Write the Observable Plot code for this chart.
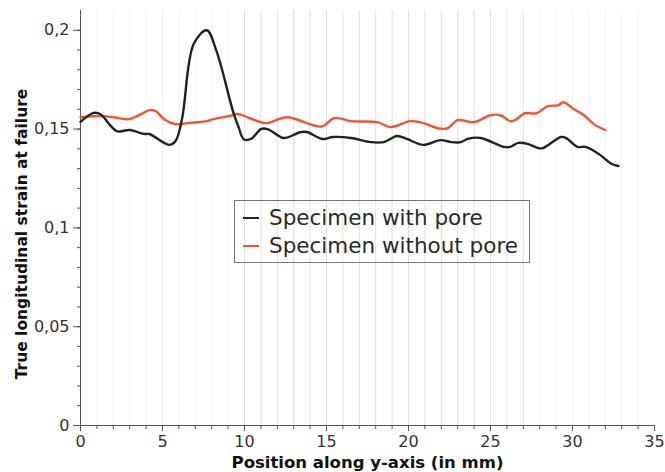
<!DOCTYPE html>
<html>
<head>
<meta charset="utf-8">
<script src="https://cdn.jsdelivr.net/npm/d3@7"></script>
<script src="https://cdn.jsdelivr.net/npm/@observablehq/plot@0.6"></script>
<style>
  body { margin: 0; background: #fff; }
  #wrap { position: relative; width: 665px; height: 472px; font-family: "DejaVu Sans", sans-serif; }
  #legend { position: absolute; left: 234px; top: 200px; width: 296px; height: 63px; border: 1px solid #777; box-sizing: border-box; }
  .li { position: absolute; left: 8px; font-size: 21.5px; color: #2a2a2a; white-space: nowrap; line-height: 24px; }
  .li span.sw { display: inline-block; width: 16px; height: 0; border-top: 2.5px solid; vertical-align: middle; margin-right: 10px; position: relative; top: -1px; }
</style>
</head>
<body>
<div id="wrap"></div>
<script>
// Specimen with pore
const poreX = [0, 0.8, 1.2, 2.2, 3.0, 3.9, 4.2, 5.4, 5.8, 6.2, 6.9, 7.7, 8.3, 9.3, 9.65, 9.95, 10.4, 11.0, 11.4, 12.3, 12.6, 13.4, 13.8, 14.75, 15.4, 16.5, 17.7, 18.5, 19.3, 19.9, 20.9, 21.95, 22.6, 23.2, 23.6, 24.4, 25.8, 26.2, 26.7, 27.3, 27.9, 28.2, 29.3, 29.6, 30.3, 30.8, 31.6, 32.4, 32.8];
const poreY = [0.1536, 0.1582, 0.1576, 0.149, 0.1495, 0.1475, 0.1475, 0.142, 0.144, 0.1556, 0.193, 0.2, 0.1893, 0.159, 0.1507, 0.1449, 0.145, 0.15, 0.15, 0.1456, 0.1457, 0.1484, 0.1485, 0.145, 0.146, 0.1455, 0.1434, 0.1434, 0.1465, 0.145, 0.142, 0.1444, 0.1434, 0.1434, 0.145, 0.1455, 0.141, 0.141, 0.143, 0.1424, 0.1404, 0.1404, 0.146, 0.1455, 0.141, 0.141, 0.1374, 0.1323, 0.1313];
// Specimen without pore
const noPoreX = [0, 1.2, 2.0, 2.9, 3.7, 4.2, 4.6, 5.1, 5.8, 6.5, 7.7, 8.1, 9.1, 9.6, 10.3, 11.3, 12.6, 14.7, 15.5, 16.5, 18.1, 18.9, 20.1, 20.7, 21.95, 22.4, 23.0, 24.0, 25.0, 25.6, 26.2, 26.5, 27.1, 27.8, 28.5, 29.1, 29.45, 30.1, 30.7, 31.3, 32.0];
const noPoreY = [0.156, 0.1566, 0.156, 0.155, 0.1576, 0.1596, 0.159, 0.155, 0.1525, 0.153, 0.154, 0.155, 0.1566, 0.1576, 0.1556, 0.153, 0.156, 0.1513, 0.1556, 0.154, 0.1535, 0.151, 0.154, 0.1535, 0.1502, 0.1505, 0.1545, 0.1535, 0.157, 0.157, 0.154, 0.1545, 0.158, 0.158, 0.1616, 0.162, 0.1636, 0.16, 0.157, 0.1525, 0.1495];

const seriesNames = ["Specimen with pore", "Specimen without pore"];
const seriesColors = ["#222222", "#ef5535"];
const xTicks = [0, 5, 10, 15, 20, 25, 30, 35];
const yTicks = [0, 0.05, 0.1, 0.15, 0.2];
const xMinor = d3.range(0, 36, 1);
const yMinor = d3.range(0, 0.205, 0.01);
const gridStrong = d3.range(10, 28, 1);
const gridFaint = [1,2,3,4,5,6,7,8,9,28,29,30,31,32,33,34];
const xLabel = "Position along y-axis (in mm)";
const yLabel = "True longitudinal strain at failure";

const pore = poreX.map((x, i) => ({x, y: poreY[i]}));
const noPore = noPoreX.map((x, i) => ({x, y: noPoreY[i]}));
const fmt = d => String(d).replace(".", ",");

const chart = Plot.plot({
  width: 665, height: 472,
  marginLeft: 80, marginRight: 11, marginTop: 10, marginBottom: 47,
  style: {fontFamily: "DejaVu Sans, sans-serif", fontSize: "16px", color: "#333", background: "#fff"},
  x: {domain: [0, 35], axis: null},
  y: {domain: [0, 0.21], axis: null},
  marks: [
    Plot.ruleX(gridFaint, {stroke: "#f3f2ec", strokeWidth: 1}),
    Plot.ruleX(gridStrong, {stroke: "#e2e0d6", strokeWidth: 1}),
    Plot.axisX(xMinor, {tickSize: 4, tickFormat: () => "", label: null, stroke: "#555"}),
    Plot.axisY(yMinor, {tickSize: 3, tickFormat: () => "", label: null, stroke: "#555"}),
    Plot.axisX(xTicks, {tickSize: 6, tickPadding: 4, tickFormat: fmt, label: null, fontSize: 16, fill: "#333", stroke: "#555"}),
    Plot.axisY(yTicks, {tickSize: 7, tickPadding: 4, tickFormat: fmt, label: null, fontSize: 16, fill: "#333", stroke: "#555"}),
    Plot.ruleX([0], {stroke: "#555", strokeWidth: 1}),
    Plot.ruleY([0], {stroke: "#555", strokeWidth: 1}),
    Plot.line(noPore, {x: "x", y: "y", stroke: seriesColors[1], strokeWidth: 2.4, curve: "catmull-rom"}),
    Plot.line(pore, {x: "x", y: "y", stroke: seriesColors[0], strokeWidth: 2.4, curve: "catmull-rom"}),
    Plot.text([xLabel], {frameAnchor: "bottom", dy: 37, fontWeight: "bold", fontSize: 16.5, fill: "#111", textAnchor: "middle", lineAnchor: "middle"}),
    Plot.text([yLabel], {frameAnchor: "left", rotate: -90, dx: -58, dy: 16, fontWeight: "bold", fontSize: 15.5, fill: "#111", textAnchor: "middle", lineAnchor: "middle"})
  ]
});

const wrap = document.getElementById("wrap");
wrap.appendChild(chart);
const legend = document.createElement("div");
legend.id = "legend";
seriesNames.forEach((name, i) => {
  const row = document.createElement("div");
  row.className = "li";
  row.style.top = (5 + i * 28) + "px";
  const sw = document.createElement("span");
  sw.className = "sw";
  sw.style.borderColor = seriesColors[i];
  row.appendChild(sw);
  row.appendChild(document.createTextNode(name));
  legend.appendChild(row);
});
wrap.appendChild(legend);
</script>
</body>
</html>
